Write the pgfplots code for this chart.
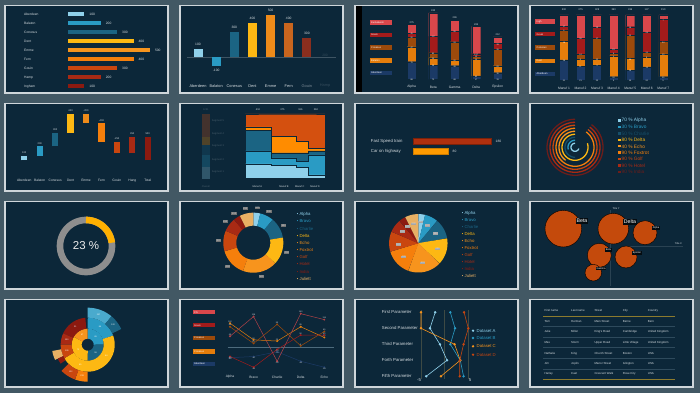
\documentclass[border=0pt]{standalone}
\usepackage{fontspec}
\setmainfont{Liberation Sans}
\usepackage{pgfplots}
\pgfplotsset{compat=1.18}

\definecolor{bgout}{HTML}{425864}
\definecolor{pbg}{HTML}{0C2739}
\definecolor{pbd}{HTML}{CFD6DA}
\definecolor{lbl}{HTML}{D5DCE0}
\definecolor{cA}{HTML}{8FD0EA}
\definecolor{cB}{HTML}{2A9BC4}
\definecolor{cC}{HTML}{1B6483}
\definecolor{cD}{HTML}{FDB813}
\definecolor{cE}{HTML}{F7941D}
\definecolor{cF}{HTML}{F57F0C}
\definecolor{cG}{HTML}{C9460F}
\definecolor{cH}{HTML}{A82A14}
\definecolor{cI}{HTML}{8C1A10}
\definecolor{cJ}{HTML}{E8B064}
\definecolor{cK}{HTML}{D9474B}
\definecolor{cL}{HTML}{A31B1B}
\definecolor{cM}{HTML}{9C4A0B}
\definecolor{cN}{HTML}{E57D0B}
\definecolor{cO}{HTML}{1B3A66}
\definecolor{seg4}{HTML}{FF8C00}
\definecolor{seg5}{HTML}{D4500F}
\definecolor{gry}{HTML}{8E8E8E}
\definecolor{fern}{HTML}{C8651E}
\definecolor{gou}{HTML}{8A2E1E}
\definecolor{emme}{HTML}{EE8B1A}
\definecolor{train}{HTML}{B0300E}
\definecolor{car}{HTML}{FF9A00}
\definecolor{bub}{HTML}{C44A0C}
\definecolor{amb}{HTML}{FFB000}
\definecolor{gridc}{HTML}{3E4A44}
\definecolor{rulec}{HTML}{8C7B2E}
\definecolor{sepc}{HTML}{2E4A5C}
\definecolor{zl}{HTML}{4D6B7D}

\newcommand\ft{\fontsize{3.3}{4}\selectfont}
\newcommand\fs{\fontsize{2.5}{3}\selectfont}
\newcommand\fxs{\fontsize{2.1}{2.5}\selectfont}
\newcommand\fm{\fontsize{4.3}{5}\selectfont}
\newcommand\fl{\fontsize{4.8}{5.5}\selectfont}
\newcommand\ftab{\fontsize{2.9}{3.5}\selectfont}

\pgfplotsset{
  base/.style={scale only axis, anchor=south west, clip=false, hide axis, enlargelimits=false,
     /pgf/number format/assume math mode=true},
  hb/.style={xbar, bar width=4pt, bar shift=0pt, draw=none, point meta=x, nodes near coords,
     every node near coord/.append style={font=\ft, text=lbl, anchor=west, xshift=1.5pt}},
  vb/.style={ybar, bar width=9pt, bar shift=0pt, draw=none, nodes near coords,
     every node near coord/.append style={font=\ft, text=lbl}},
  wf/.style={no markers, line width=6.3pt, line cap=butt},
  ringp/.style={no markers, samples=60, line cap=butt},
  stk/.style={ybar stacked, bar width=9pt, visualization depends on=rawy \as \segv,
     nodes near coords={\pgfmathprintnumber{\segv}},
     every node near coord/.append style={font=\fxs, text=white, inner sep=0pt, yshift={-#1*\segv*1pt-0.8pt}}},
  ln/.style={line width=0.5pt, mark=*, mark size=0.7pt, nodes near coords,
     every node near coord/.append style={font=\fxs, text=lbl, inner sep=0.5pt}},
  pc/.style={line width=0.6pt, mark=*, mark size=0.9pt},
}
\newcommand\rseg[5]{\addplot[ringp, #1, line width=#3pt, domain=#4:#5] ({#2*cos(x)},{#2*sin(x)});}
\tikzset{lab/.style={font=\ft, text=lbl, inner sep=0pt}}

\begin{document}
\begin{tikzpicture}
\fill[bgout] (0pt,0pt) rectangle (700pt,393pt);
\foreach \px in {5,180,355,530}{\foreach \py in {300,202,104,6}{
  \fill[pbg] (\px pt,\py pt) rectangle ++(163pt,87.5pt);
  \draw[pbd, line width=1.2pt] (\px pt,\py pt) rectangle ++(163pt,87.5pt);}}

% ---------- Panel 1: horizontal bars
\begin{axis}[base, at={(68pt,306.7pt)}, width=82pt, height=72pt, xmin=0, xmax=500, ymin=0, ymax=8]
\addplot[hb, fill=cA] coordinates {(100,8)};
\addplot[hb, fill=cB] coordinates {(200,7)};
\addplot[hb, fill=cC] coordinates {(300,6)};
\addplot[hb, fill=cD] coordinates {(400,5)};
\addplot[hb, fill=cE] coordinates {(500,4)};
\addplot[hb, fill=cF] coordinates {(400,3)};
\addplot[hb, fill=cG] coordinates {(300,2)};
\addplot[hb, fill=cH] coordinates {(200,1)};
\addplot[hb, fill=cI] coordinates {(100,0)};
\end{axis}
\foreach \t [count=\i from 0] in {Aberdeen,Balaton,Conesus,Dent,Emme,Fern,Gouin,Hamp,Ingham}
  \node[lab, anchor=west] at (24pt, 378.7pt-9pt*\i) {\t};

% ---------- Panel 2: vertical bars
\begin{axis}[base, at={(198pt,318.8pt)}, width=127pt, height=59.2pt, xmin=0, xmax=7, ymin=-200, ymax=500]
\addplot[no markers, color=lbl!25!pbg, line width=0.4pt] coordinates {(-0.6,0) (7.6,0)};
\addplot[vb, fill=cA] coordinates {(0,100)};
\addplot[vb, fill=cB] coordinates {(1,-100)};
\addplot[vb, fill=cC] coordinates {(2,300)};
\addplot[vb, fill=cD] coordinates {(3,400)};
\addplot[vb, fill=emme] coordinates {(4,500)};
\addplot[vb, fill=fern] coordinates {(5,400)};
\addplot[vb, fill=gou, nodes near coords={300}] coordinates {(6,230)};
\node[font=\ft, text=lbl!20!pbg, above, inner sep=1pt] at (axis cs:7,0) {200};
\end{axis}
\foreach \t/\c [count=\i from 0] in {Aberdeen/lbl,Balaton/lbl,Conesus/lbl,Dent/lbl,Emme/lbl,Fern/lbl,Gouin/lbl!55!pbg,Hamp/lbl!20!pbg}
  \node[font=\fontsize{3.9}{4.5}\selectfont, text=\c, inner sep=0pt] at (198pt+18.143pt*\i, 307pt) {\t};

% ---------- Panel 3: stacked bars
\fill[black] (355.7pt,300.7pt) rectangle (362pt,386.8pt);
\begin{axis}[base, at={(411.7pt,313.7pt)}, width=86pt, height=70pt, xmin=0, xmax=4, ymin=0, ymax=350, stk=0.1]
\addplot[fill=cO, draw=pbg, line width=0.35pt] coordinates {(0,88) (1,70) (2,68) (3,17) (4,33)};
\addplot[fill=cN, draw=pbg, line width=0.35pt] coordinates {(0,75) (1,38) (2,28) (3,83) (4,35)};
\addplot[fill=cM, draw=pbg, line width=0.35pt] coordinates {(0,47) (1,25) (2,92) (3,15) (4,83)};
\addplot[fill=cL, draw=pbg, line width=0.35pt] coordinates {(0,20) (1,82) (2,53) (3,13) (4,28)};
\addplot[fill=cK, draw=pbg, line width=0.35pt] coordinates {(0,45) (1,117) (2,55) (3,137) (4,33)};
\node[font=\fs, text=lbl, above=1pt, inner sep=0pt] at (axis cs:0,275) {275};
\node[font=\fs, text=lbl, above=1pt, inner sep=0pt] at (axis cs:1,332) {332};
\node[font=\fs, text=lbl, above=1pt, inner sep=0pt] at (axis cs:2,296) {296};
\node[font=\fs, text=lbl, above=1pt, inner sep=0pt] at (axis cs:3,265) {265};
\node[font=\fs, text=lbl, above=1pt, inner sep=0pt] at (axis cs:4,212) {212};
\end{axis}
\foreach \c/\t/\y in {cK/Kuskokwim/370.3, cL/Gouin/358, cM/Conesus/345.3, cN/Balaton/332.3, cO/Aberdeen/320}{
  \fill[\c] (370pt,\y pt-2.2pt) rectangle (392pt,\y pt+2.2pt);
  \node[font=\fs, text=white, anchor=west, inner sep=0pt] at (371pt,\y pt) {\t};}
\foreach \t [count=\i from 0] in {Alpha,Beta,Gamma,Delta,Epsilon}
  \node[lab] at (411.7pt+21.5pt*\i, 306pt) {\t};

% ---------- Panel 4: 100% stacked bars
\begin{axis}[base, at={(564pt,313pt)}, width=99.3pt, height=65pt, xmin=0, xmax=6, ymin=0, ymax=100, stk=0.325]
\addplot[fill=cO, draw=pbg, line width=0.35pt] coordinates {(0,31) (1,21) (2,23) (3,5) (4,15) (5,20) (6,5)};
\addplot[fill=cN, draw=pbg, line width=0.35pt] coordinates {(0,28) (1,11) (2,9) (3,32) (4,18) (5,15) (6,35)};
\addplot[fill=cM, draw=pbg, line width=0.35pt] coordinates {(0,18) (1,8) (2,32) (3,4) (4,36) (5,8) (6,19)};
\addplot[fill=cL, draw=pbg, line width=0.35pt] coordinates {(0,6) (1,24) (2,17) (3,6) (4,13) (5,31) (6,34)};
\addplot[fill=cK, draw=pbg, line width=0.35pt] coordinates {(0,17) (1,36) (2,19) (3,53) (4,18) (5,26) (6,7)};
\end{axis}
\foreach \t [count=\i from 0] in {300,375,328,390,336,137,150}
  \node[font=\fs, text=lbl, inner sep=0pt] at (564pt+16.55pt*\i, 383pt) {\t};
\foreach \t [count=\i from 1] in {1,...,7}
  \node[lab] at (564pt+16.55pt*\i-16.55pt, 305pt) {Manuf \t};
\foreach \c/\t/\y in {cK/Ingh/371.3, cL/Gouin/358.7, cM/Conesus/345.3, cN/Dent/332, cO/Aberdeen/319}{
  \fill[\c] (535pt,\y pt-2.2pt) rectangle (555pt,\y pt+2.2pt);
  \node[font=\fs, text=white, anchor=west, inner sep=0pt] at (536.5pt,\y pt) {\t};}

% ---------- Panel 5: waterfall
\begin{axis}[base, at={(24.3pt,232.7pt)}, width=123.4pt, height=46.3pt, xmin=0, xmax=8, ymin=0, ymax=1000]
\addplot[wf, cA] coordinates {(0,0) (0,100)};
\addplot[wf, cB] coordinates {(1,100) (1,300)};
\addplot[wf, cC] coordinates {(2,300) (2,600)};
\addplot[wf, cD] coordinates {(3,600) (3,1000)};
\addplot[wf, emme] coordinates {(4,1000) (4,800)};
\addplot[wf, cF] coordinates {(5,800) (5,400)};
\addplot[wf, cG] coordinates {(6,400) (6,150)};
\addplot[wf, cH] coordinates {(7,150) (7,500)};
\addplot[wf, cI] coordinates {(8,0) (8,500)};
\node[font=\fs, text=lbl, above=2pt, inner sep=0pt] at (axis cs:0,100) {100};
\node[font=\fs, text=lbl, above=2pt, inner sep=0pt] at (axis cs:1,300) {200};
\node[font=\fs, text=lbl, above=2pt, inner sep=0pt] at (axis cs:2,600) {300};
\node[font=\fs, text=lbl, above=2pt, inner sep=0pt] at (axis cs:3,1000) {400};
\node[font=\fs, text=lbl, above=2pt, inner sep=0pt] at (axis cs:4,1000) {-200};
\node[font=\fs, text=lbl, above=2pt, inner sep=0pt] at (axis cs:5,800) {-400};
\node[font=\fs, text=lbl, above=2pt, inner sep=0pt] at (axis cs:6,400) {-250};
\node[font=\fs, text=lbl, above=2pt, inner sep=0pt] at (axis cs:7,500) {350};
\node[font=\fs, text=lbl, above=2pt, inner sep=0pt] at (axis cs:8,500) {500};
\end{axis}
\foreach \t [count=\i from 0] in {Aberdeen,Balaton,Conesus,Dent,Emme,Fern,Gouin,Hang,Total}
  \node[lab] at (24.3pt+15.43pt*\i, 212.3pt) {\t};

% ---------- Panel 6: marimekko
\begin{axis}[base, at={(201.7pt,214.3pt)}, width=8.3pt, height=64.7pt, xmin=-0.5, xmax=0.5, ymin=0, ymax=100, ybar stacked, bar width=8.3pt]
\addplot[fill=cA, draw=none, opacity=0.28] coordinates {(0,18)};
\addplot[fill=cB, draw=none, opacity=0.28] coordinates {(0,18)};
\addplot[fill=cC, draw=none, opacity=0.28] coordinates {(0,16)};
\addplot[fill=seg4, draw=none, opacity=0.28] coordinates {(0,13)};
\addplot[fill=seg5, draw=none, opacity=0.28] coordinates {(0,35)};
\end{axis}
\foreach \t/\y in {5/271.7, 4/259.3, 3/246.7, 2/233.3, 1/221}
  \node[font=\fs, text=lbl!30!pbg, anchor=west, inner sep=0pt] at (211.7pt,\y pt) {Segment \t};
\node[font=\fs, text=lbl!30!pbg, inner sep=0pt] at (205.8pt,283.3pt) {1231};
\node[font=\fs, text=lbl!30!pbg, inner sep=0pt] at (205.8pt,206.7pt) {Overall};
\begin{axis}[base, at={(245pt,214.3pt)}, width=80pt, height=64.7pt, xmin=0, xmax=1231, ymin=0, ymax=100, stack plots=y, const plot mark left, area style]
\addplot[fill=cA, draw=pbg, line width=0.4pt] coordinates {(0,23) (410,21) (785,18) (971,6) (1231,6)} \closedcycle;
\addplot[fill=cB, draw=pbg, line width=0.4pt] coordinates {(0,20) (410,11) (785,9) (971,31) (1231,31)} \closedcycle;
\addplot[fill=cC, draw=pbg, line width=0.4pt] coordinates {(0,32) (410,8) (785,13) (971,6) (1231,6)} \closedcycle;
\addplot[fill=seg4, draw=pbg, line width=0.4pt] coordinates {(0,5) (410,25) (785,18) (971,4) (1231,4)} \closedcycle;
\addplot[fill=seg5, draw=pbg, line width=0.4pt] coordinates {(0,20) (410,35) (785,42) (971,53) (1231,53)} \closedcycle;
\node[font=\fxs, text=white] at (axis cs:205,11.5) {94};
\node[font=\fxs, text=white] at (axis cs:205,33) {82};
\node[font=\fxs, text=white] at (axis cs:205,59) {131};
\node[font=\fxs, text=white] at (axis cs:205,90) {82};
\node[font=\fxs, text=white] at (axis cs:597,10.5) {79};
\node[font=\fxs, text=white] at (axis cs:597,26.5) {41};
\node[font=\fxs, text=white] at (axis cs:597,36) {30};
\node[font=\fxs, text=white] at (axis cs:597,52.5) {94};
\node[font=\fxs, text=white] at (axis cs:597,82.5) {131};
\node[font=\fxs, text=white] at (axis cs:878,9) {33};
\node[font=\fxs, text=white] at (axis cs:878,33.5) {24};
\node[font=\fxs, text=white] at (axis cs:878,49) {33};
\node[font=\fxs, text=white] at (axis cs:878,79) {78};
\node[font=\fxs, text=white] at (axis cs:1101,21.5) {81};
\node[font=\fxs, text=white] at (axis cs:1101,73.5) {138};
\end{axis}
\foreach \t/\x in {410/258, 375/282.5, 186/300.4, 260/315.9}
  \node[font=\fs, text=lbl, inner sep=0pt] at (\x pt, 283.3pt) {\t};
\foreach \t/\x in {A/257.3, B/284, C/299.8, D/315}
  \node[font=\fs, text=lbl, inner sep=0pt] at (\x pt, 206.7pt) {Manuf \t};

% ---------- Panel 7: two bars
\begin{axis}[base, at={(413.3pt,241.7pt)}, width=77.4pt, height=10pt, xmin=0, xmax=180, ymin=0, ymax=1]
\addplot[xbar, bar width=6pt, bar shift=0pt, fill=train, draw=train!70!black, line width=0.4pt, point meta=x, nodes near coords,
   every node near coord/.append style={font=\ft, text=lbl, anchor=west, xshift=1.5pt}] coordinates {(180,1)};
\addplot[xbar, bar width=6pt, bar shift=0pt, fill=car, draw=car!80!black, line width=0.4pt, point meta=x, nodes near coords,
   every node near coord/.append style={font=\ft, text=lbl, anchor=west, xshift=1.5pt}] coordinates {(80,0)};
\end{axis}
\node[font=\fm, text=lbl, anchor=west, inner sep=0pt] at (370.7pt,251.7pt) {Fast Speed train};
\node[font=\fm, text=lbl, anchor=west, inner sep=0pt] at (370.7pt,241.7pt) {Car on highway};

% ---------- Panel 8: radial rings
\begin{axis}[base, at={(545pt,215.7pt)}, width=60pt, height=60pt, xmin=-30, xmax=30, ymin=-30, ymax=30]
\rseg{cA}{4}{1.3}{90}{342}
\rseg{cB}{7}{1.3}{90}{198}
\rseg{cC!65!pbg}{10}{1.3}{90}{270}
\rseg{cD}{13}{1.3}{90}{378}
\rseg{cE}{16}{1.3}{90}{234}
\rseg{cF}{19}{1.3}{90}{414}
\rseg{cG}{22}{1.3}{90}{414}
\rseg{cH}{25}{1.3}{90}{414}
\rseg{cI!75!pbg}{28}{1.3}{90}{414}
\end{axis}
\foreach \c/\v/\t [count=\i from 0] in {cA/70/Alpha, cB/30/Bravo, cC!65!pbg/50/Charlie, cD/80/Delta, cE/40/Echo, cF/90/Foxtrot, cG/90/Golf, cH/90/Hotel, cI!75!pbg/90/India}{
  \fill[\c] (618.3pt,272.3pt-6.4pt*\i-1.2pt) rectangle ++(2.4pt,2.4pt);
  \node[font=\fl, text=\c, anchor=west, inner sep=0pt] at (621.5pt,272.3pt-6.4pt*\i) {\v~\% \t};}

% ---------- Panel 9: 23% donut
\begin{axis}[base, at={(54pt,115pt)}, width=64pt, height=64pt, xmin=-32, xmax=32, ymin=-32, ymax=32]
\addplot[ringp, gry, line width=6.6pt, domain=0:360, samples=120] ({26*cos(x)},{26*sin(x)});
\addplot[ringp, amb, line width=6.6pt, domain=7.2:90] ({26*cos(x)},{26*sin(x)});
\end{axis}
\node[font=\fontsize{11.5}{13}\selectfont, text=white!92!black] at (86pt,147pt) {23 \%};

% ---------- Panel 10: donut
\begin{axis}[base, at={(221.3pt,118.3pt)}, width=64pt, height=64pt, xmin=-32, xmax=32, ymin=-32, ymax=32]
\rseg{cA}{23.5}{13}{76.67}{90}
\rseg{cB}{23.5}{13}{50}{76.67}
\rseg{cC}{23.5}{13}{10}{50}
\rseg{cD}{23.5}{13}{-43.33}{10}
\rseg{cE}{23.5}{13}{-110}{-43.33}
\rseg{cF}{23.5}{13}{-163.33}{-110}
\rseg{cG}{23.5}{13}{-203.33}{-163.33}
\rseg{cH}{23.5}{13}{-230}{-203.33}
\rseg{cI}{23.5}{13}{-243.33}{-230}
\rseg{cJ}{23.5}{13}{-270}{-243.33}
\node[font=\fs, text=lbl, fill=black!55, inner sep=0.5pt] at (axis cs:4.08,34.76) {100};
\node[font=\fs, text=lbl, fill=black!55, inner sep=0.5pt] at (axis cs:15.73,31.27) {200};
\node[font=\fs, text=lbl, fill=black!55, inner sep=0.5pt] at (axis cs:30.31,17.5) {300};
\node[font=\fs, text=lbl, fill=black!55, inner sep=0.5pt] at (axis cs:33.52,-10.06) {400};
\node[font=\fs, text=lbl, fill=black!55, inner sep=0.5pt] at (axis cs:8.05,-34.06) {500};
\node[font=\fs, text=lbl, fill=black!55, inner sep=0.5pt] at (axis cs:-25.47,-24.0) {400};
\node[font=\fs, text=lbl, fill=black!55, inner sep=0.5pt] at (axis cs:-34.94,2.01) {300};
\node[font=\fs, text=lbl, fill=black!55, inner sep=0.5pt] at (axis cs:-28.07,20.91) {200};
\node[font=\fs, text=lbl, fill=black!55, inner sep=0.5pt] at (axis cs:-19.22,29.25) {100};
\node[font=\fs, text=lbl, fill=black!55, inner sep=0.5pt] at (axis cs:-8.05,34.06) {200};
\end{axis}
\foreach \c/\t [count=\i from 0] in {cA/Alpha, cB/Bravo, cC/Charlie, cD/Delta, cE/Echo, cF/Foxtrot, cG/Golf, cH/Hotel, cI/India, cJ/Juliett}
  \node[font=\fm, text=\c, anchor=west, inner sep=0pt] at (296.7pt,178.7pt-7.15pt*\i) {• \t};

% ---------- Panel 11: pie
\begin{axis}[base, at={(386.3pt,117.7pt)}, width=64pt, height=64pt, xmin=-32, xmax=32, ymin=-32, ymax=32]
\rseg{cA}{14.6}{29.2}{76.67}{90}
\rseg{cB}{14.6}{29.2}{50}{76.67}
\rseg{cC}{14.6}{29.2}{10}{50}
\rseg{cD}{14.6}{29.2}{-43.33}{10}
\rseg{cE}{14.6}{29.2}{-110}{-43.33}
\rseg{cF}{14.6}{29.2}{-163.33}{-110}
\rseg{cG}{14.6}{29.2}{-203.33}{-163.33}
\rseg{cH}{14.6}{29.2}{-230}{-203.33}
\rseg{cI}{14.6}{29.2}{-243.33}{-230}
\rseg{cJ}{14.6}{29.2}{-270}{-243.33}
\node[font=\fs, text=lbl, fill=black!35, inner sep=0.4pt] at (axis cs:2.3,21.5) {100};
\node[font=\fs, text=lbl, fill=black!35, inner sep=0.4pt] at (axis cs:9.0,17.9) {200};
\node[font=\fs, text=lbl, fill=black!35, inner sep=0.4pt] at (axis cs:17.3,10) {300};
\node[font=\fs, text=lbl, fill=black!35, inner sep=0.4pt] at (axis cs:19.2,-5.7) {400};
\node[font=\fs, text=lbl, fill=black!35, inner sep=0.4pt] at (axis cs:4.6,-19.5) {500};
\node[font=\fs, text=lbl, fill=black!35, inner sep=0.4pt] at (axis cs:-14.6,-13.7) {400};
\node[font=\fs, text=lbl, fill=black!35, inner sep=0.4pt] at (axis cs:-20,-1.2) {300};
\node[font=\fs, text=lbl, fill=black!35, inner sep=0.4pt] at (axis cs:-16,11.9) {200};
\node[font=\fs, text=lbl, fill=black!35, inner sep=0.4pt] at (axis cs:-11,16.7) {100};
\node[font=\fs, text=lbl, fill=black!35, inner sep=0.4pt] at (axis cs:-4.6,19.5) {200};
\end{axis}
\foreach \c/\t [count=\i from 0] in {cA/Alpha, cB/Bravo, cC/Charlie, cD/Delta, cE/Echo, cF/Foxtrot, cG/Golf, cH/Hotel, cI/India, cJ/Juliett}
  \node[font=\fm, text=\c, anchor=west, inner sep=0pt] at (461.7pt,179.7pt-6.96pt*\i) {• \t};

% ---------- Panel 12: bubbles
\begin{axis}[base, at={(530pt,104pt)}, width=163pt, height=87.5pt, xmin=0, xmax=16.3, ymin=0, ymax=8.75]
\addplot[no markers, lbl!15!pbg, line width=0.4pt] coordinates {(8,0.3) (8,7.9)};
\addplot[no markers, lbl!15!pbg, line width=0.4pt] coordinates {(9.3,4.3) (15.3,4.3)};
\addplot[only marks, mark=*, mark size=18.3pt, mark options={fill=bub, draw=none}] coordinates {(3.33,6.03)};
\addplot[only marks, mark=*, mark size=15.3pt, mark options={fill=bub, draw=none}] coordinates {(8.33,6.03)};
\addplot[only marks, mark=*, mark size=12pt, mark options={fill=bub, draw=none}] coordinates {(11.5,5.63)};
\addplot[only marks, mark=*, mark size=12pt, mark options={fill=bub, draw=none}] coordinates {(6.93,3.37)};
\addplot[only marks, mark=*, mark size=11pt, mark options={fill=bub, draw=none}] coordinates {(9.6,3.2)};
\addplot[only marks, mark=*, mark size=8.3pt, mark options={fill=bub, draw=none}] coordinates {(6.33,1.63)};
\node[font=\ft, text=white] at (axis cs:3.33,6.03) {1.5};
\node[font=\ft, text=white] at (axis cs:8.33,6.03) {1.2};
\node[font=\fs, text=white] at (axis cs:11.5,5.63) {1};
\node[font=\fs, text=white] at (axis cs:6.93,3.37) {1};
\node[font=\fs, text=white] at (axis cs:9.6,3.2) {0.8};
\node[font=\fs, text=white] at (axis cs:6.33,1.63) {0.7};
\end{axis}
\tikzset{bl/.style={fill=black!70!pbg, text=white, inner sep=0.7pt}}
\node[bl, font=\fontsize{5.2}{6}\selectfont] at (582pt,172pt) {Beta};
\node[bl, font=\fontsize{5.2}{6}\selectfont] at (630pt,171pt) {Delta};
\node[bl, font=\fs] at (656pt,164.7pt) {Alpha};
\node[bl, font=\fs] at (608.5pt,143pt) {Beta};
\node[bl, font=\fs] at (637pt,140.3pt) {Epsilon};
\node[bl, font=\fs] at (601pt,124.3pt) {Gamma};
\node[font=\fs, text=lbl] at (616pt,184.7pt) {Title Y};
\node[font=\fs, text=lbl] at (678.3pt,149.3pt) {Title X};

% ---------- Panel 13: sunburst
\begin{axis}[base, at={(49.7pt,10.3pt)}, width=76pt, height=76pt, xmin=-38, xmax=38, ymin=-38, ymax=38]
\rseg{cB}{11}{10}{0}{90}
\rseg{cC}{11}{10}{-90}{0}
\rseg{cD}{11}{10}{150}{270}
\rseg{cE}{11}{10}{90}{150}
\rseg{cB}{21.5}{11}{20}{90}
\rseg{cD}{21.5}{11}{-150}{20}
\rseg{cI}{21.5}{11}{95}{155}
\rseg{cH}{21.5}{11}{155}{180}
\rseg{cG}{21.5}{11}{180}{210}
\rseg{cB!85!white}{32}{10}{50}{90}
\rseg{cC}{32}{10}{25}{50}
\rseg{cF}{32}{10}{-110}{-90}
\rseg{cG}{32}{10}{-135}{-110}
\rseg{cJ}{31.5}{9}{190}{205}
\rseg{cI}{30}{6}{205}{215}
\node[font=\fxs, text=white] at (axis cs:10.9,30.1) {207};
\node[font=\fxs, text=white] at (axis cs:25.4,19.5) {122};
\node[font=\fxs, text=white] at (axis cs:12.3,17.6) {84};
\node[font=\fxs, text=white] at (axis cs:7.8,7.8) {45};
\node[font=\fxs, text=white] at (axis cs:7.8,-7.8) {36};
\node[font=\fxs, text=white] at (axis cs:18.6,-10.75) {64};
\node[font=\fxs, text=white] at (axis cs:-7.4,-20.2) {65};
\node[font=\fxs, text=white] at (axis cs:-9.5,-5.5) {73};
\node[font=\fxs, text=white] at (axis cs:-5.5,9.5) {47};
\node[font=\fxs, text=white] at (axis cs:-12.3,17.6) {31};
\node[font=\fxs, text=white] at (axis cs:-20.9,4.8) {100};
\node[font=\fxs, text=white] at (axis cs:-20.8,-5.6) {128};
\node[font=\fxs, text=white] at (axis cs:-5.6,-31.5) {233};
\node[font=\fxs, text=white] at (axis cs:-17,-27.1) {122};
\end{axis}

% ---------- Panel 14: line chart
\begin{axis}[base, at={(230pt,22.2pt)}, width=94.3pt, height=59.5pt, xmin=0, xmax=4, ymin=-100, ymax=150]
\addplot[no markers, zl, line width=0.5pt] coordinates {(-0.1,0) (4.4,0)};
\addplot[ln, cO] coordinates {(0,-45) (1,-40) (2,-20) (3,-60) (4,-85)};
\addplot[ln, cN] coordinates {(0,100) (1,30) (2,25) (3,85) (4,40)};
\addplot[ln, cM] coordinates {(0,85) (1,15) (2,95) (3,5) (4,65)};
\addplot[ln, cL] coordinates {(0,-40) (1,-85) (2,-10) (3,50) (4,50)};
\addplot[ln, cK!80!pbg] coordinates {(0,45) (1,128) (2,-60) (3,140) (4,115)};
\end{axis}
\foreach \c/\t/\y in {cK/CS/80.7, cL/Gouin/67.7, cM/Conesus/55, cN/Conesus/41.7, cO/Aberdeen/29}{
  \fill[\c] (192.7pt,\y pt-2.2pt) rectangle (215pt,\y pt+2.2pt);
  \node[font=\fs, text=white, anchor=west, inner sep=0pt] at (194pt,\y pt) {\t};}
\foreach \t [count=\i from 0] in {Alpha,Bravo,Charlie,Delta,Echo}
  \node[lab] at (230pt+23.575pt*\i, 16pt) {\t};

% ---------- Panel 15: parallel coordinates
\begin{axis}[base, at={(421pt,16.7pt)}, width=47.3pt, height=64pt, xmin=-5, xmax=5, ymin=0, ymax=4]
\addplot[no markers, gridc, line width=0.7pt] coordinates {(-5,-0.15) (-5,4.15)};
\addplot[no markers, gridc, line width=0.7pt] coordinates {(0,-0.15) (0,4.15)};
\addplot[no markers, gridc, line width=0.7pt] coordinates {(5,-0.15) (5,4.15)};
\addplot[pc, cA] coordinates {(-2,4) (-3.1,3) (-1,2) (0.5,1) (-3.9,0)};
\addplot[pc, cB] coordinates {(1.2,4) (2.2,3) (1.2,2) (3.3,1) (4,0)};
\addplot[pc, cE] coordinates {(-5,4) (-5,3) (2.1,2) (3.3,1) (-0.8,0)};
\addplot[pc, cG] coordinates {(4.1,4) (5,3) (4,2) (3.2,1) (3.2,0)};
\end{axis}
\foreach \t/\y in {First/80.7, Second/64.7, Third/48.7, Forth/32.7, Fifth/16.7}
  \node[font=\fm, text=lbl, anchor=west, inner sep=0pt] at (381.7pt,\y pt) {\t\ Parameter};
\node[font=\fm, text=lbl, inner sep=0pt] at (419pt,13pt) {-5};
\node[font=\fm, text=lbl, inner sep=0pt] at (470pt,13pt) {5};
\foreach \c/\t/\y in {cA/A/62.3, cB/B/55, cE/C/46.7, cG/D/38.3}{
  \fill[\c] (473pt,\y pt) circle (1.3pt);
  \node[font=\fm, text=\c, anchor=west, inner sep=0pt] at (476.5pt,\y pt) {Dataset \t};}

% ---------- Panel 16: table
\foreach \y in {66.7,56,45.7,34.7,24}
  \draw[sepc, line width=0.4pt] (543pt,\y pt) -- (675pt,\y pt);
\draw[rulec, line width=0.5pt] (543pt,76.7pt) -- (675pt,76.7pt);
\draw[rulec, line width=0.5pt] (543pt,14pt) -- (675pt,14pt);
\foreach \a/\b/\c/\d/\e/\y in {First name/Last name/Street/City/Country/82.7, Tom/Herman/Main Street/Berne/Bern/71.7, Julie/Miller/King's Road/Cambridge/United Kingdom/61.7, Max/Storm/Upper Road/Little Village/United Kingdom/50.7, Nathalie/King/Church Street/Boston/USA/39.7, Jim/Joplin/Manor Street/Islington/USA/29.3, Harley/Cast/Crescent Walk/Rose City/USA/19.3}{
  \node[font=\ftab, text=lbl, anchor=west, inner sep=0pt] at (544.3pt,\y pt) {\a};
  \node[font=\ftab, text=lbl, anchor=west, inner sep=0pt] at (571pt,\y pt) {\b};
  \node[font=\ftab, text=lbl, anchor=west, inner sep=0pt] at (594.3pt,\y pt) {\c};
  \node[font=\ftab, text=lbl, anchor=west, inner sep=0pt] at (622.7pt,\y pt) {\d};
  \node[font=\ftab, text=lbl, anchor=west, inner sep=0pt] at (647.7pt,\y pt) {\e};}

\pgfresetboundingbox
\path[use as bounding box] (0pt,0pt) rectangle (700pt,393pt);
\end{tikzpicture}
\end{document}
